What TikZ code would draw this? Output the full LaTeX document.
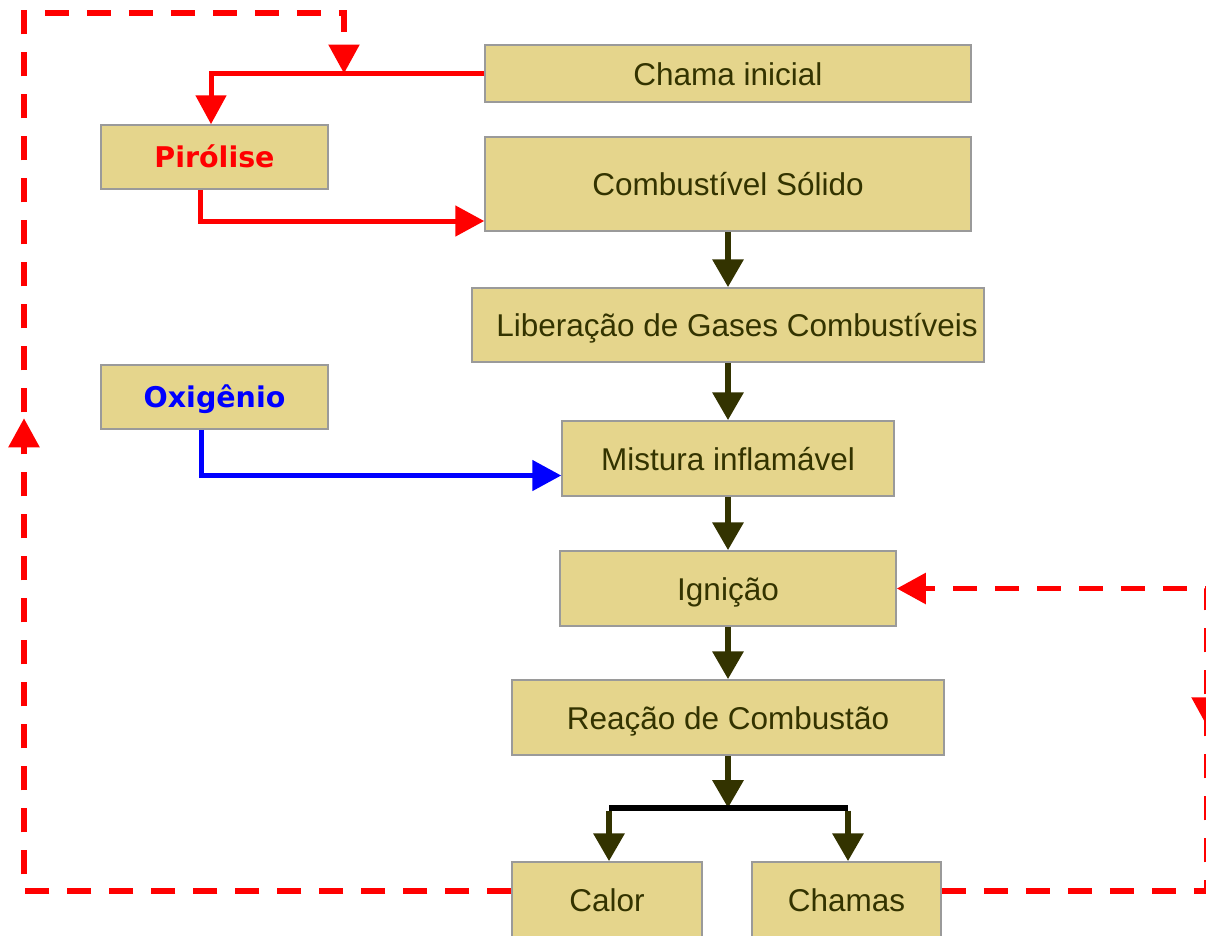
\documentclass[tikz,border=0pt]{standalone}
\usepackage{fontspec}
\setmainfont{Liberation Sans}
\newfontfamily\boldlbl{DejaVu Sans}
\usetikzlibrary{arrows.meta,decorations.markings}
\definecolor{boxfill}{HTML}{E5D58C}
\definecolor{boxline}{HTML}{9A9A9A}
\definecolor{olive}{HTML}{333300}
\definecolor{pred}{HTML}{FF0000}
\definecolor{pblue}{HTML}{0000FF}
\begin{document}
\begin{tikzpicture}[x=1pt,y=-1pt,
  box/.style={draw=boxline,fill=boxfill,line width=1.5pt,inner sep=0pt,
    text=olive,font=\fontsize{31.5}{34}\selectfont,text height=23pt,text depth=0pt},
  bbox/.style={box,font=\boldlbl\bfseries\fontsize{28.5}{31}\selectfont,text height=21pt},
  oarrow/.style={draw=olive,line width=6.5pt,-{Triangle[width=30pt,length=28pt]}},
  rarrow/.style={draw=pred,line width=5pt,-{Triangle[width=30pt,length=29pt]}},
  barrow/.style={draw=pblue,line width=5pt,-{Triangle[width=30pt,length=29pt]}},
  rdash/.style={draw=pred,line width=5.5pt,dash pattern=on 24pt off 18pt}
]
\useasboundingbox (0,0) rectangle (1206,935);
\clip (0,0) rectangle (1206,935);

\node[box,minimum width=486pt,minimum height=57pt] (chama) at (728,73.5) {Chama inicial};
\node[bbox,minimum width=227pt,minimum height=64pt,text=pred] (pir) at (214.5,157) {Pirólise};
\node[box,minimum width=486pt,minimum height=94pt] (comb) at (728,184) {Combustível Sólido};
\node[box,minimum width=512pt,minimum height=74pt] (lib) at (728,325) {\hspace*{18pt}Liberação de Gases Combustíveis};
\node[bbox,minimum width=227pt,minimum height=64pt,text=pblue] (oxi) at (214.5,397) {Oxigênio};
\node[box,minimum width=332pt,minimum height=75pt] (mist) at (728,458.5) {Mistura inflamável};
\node[box,minimum width=336pt,minimum height=75pt] (ign) at (728,588.5) {Ignição};
\node[box,minimum width=432pt,minimum height=75pt] (reac) at (728,717.5) {Reação de Combustão};
\node[box,minimum width=190pt,minimum height=75pt] (calor) at (607,899.5) {Calor};
\node[box,minimum width=189pt,minimum height=75pt] (chamas) at (846.5,899.5) {Chamas};

\coordinate (j) at (344,73.5);
\coordinate (tl) at (24,13);
\coordinate (jb) at (728,808);
\coordinate (bl) at (609,808);
\coordinate (br) at (848,808);
\coordinate (rc) at (1207,891);

% olive chain
\draw[oarrow] (comb.south) -- (lib.north);
\draw[oarrow] (lib.south) -- (mist.north);
\draw[oarrow] (mist.south) -- (ign.north);
\draw[oarrow] (ign.south) -- (reac.north);
\draw[oarrow] (reac.south) -- (jb);
\draw[black,line width=5.5pt] (bl) -- (br);
\draw[oarrow] ([yshift=-2.5pt]bl) -- (bl |- calor.north);
\draw[oarrow] ([yshift=-2.5pt]br) -- (br |- chamas.north);

% red solid
\draw[rarrow] (chama.west) -| ([xshift=-3.5pt]pir.north);
\draw[rarrow] ([xshift=-14pt]pir.south) |- ([yshift=-37pt]comb.west);
% blue
\draw[barrow] ([xshift=-13.5pt]oxi.south) |- ([yshift=-17pt]mist.west);

% red dashed feedback left
\draw[rdash,-{Triangle[width=30pt,length=29pt]},
  postaction={decorate,decoration={markings,
    mark=at position 960pt with {\arrow[pred]{Triangle[width=30pt,length=29pt]}}}}]
  ([yshift=8.5pt]calor.west) -| (tl) -| (j);
% red dashed feedback right
\draw[rdash,-{Triangle[width=30pt,length=29pt]},
  postaction={decorate,decoration={markings,
    mark=at position 430pt with {\arrowreversed[pred]{Triangle[width=30pt,length=29pt]}}}}]
  ([yshift=8.5pt]chamas.east) -- (rc) |- (ign.east);
\end{tikzpicture}
\end{document}
